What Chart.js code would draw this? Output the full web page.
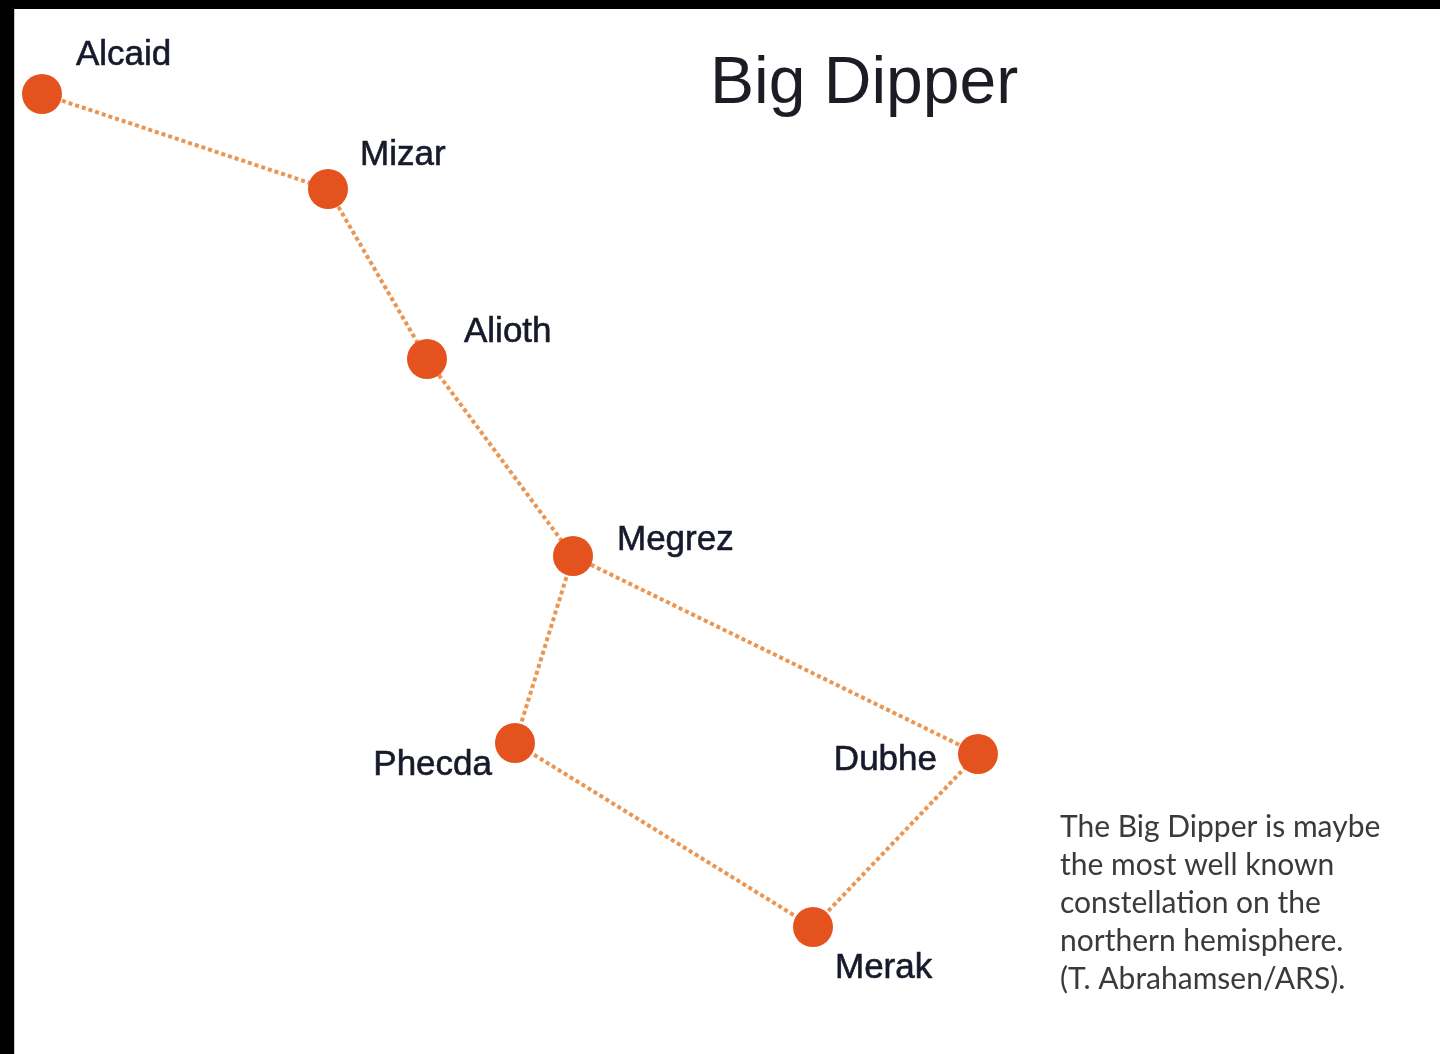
<!DOCTYPE html>
<html>
<head>
<meta charset="utf-8">
<script src="https://cdn.jsdelivr.net/npm/chart.js@4"></script>
<style>
  html, body { margin: 0; padding: 0; background: #ffffff; }
  #wrap { position: absolute; left: 0; top: 0; width: 1440px; height: 1054px; }
</style>
</head>
<body>
<div id="wrap"><canvas id="c" width="1440" height="1054"></canvas></div>
<script>
// ---- data (star positions, in picture units) ----
const starNames = ['Alcaid', 'Mizar', 'Alioth', 'Megrez', 'Phecda', 'Dubhe', 'Merak'];
const starX = [42, 328, 427, 573, 515, 978, 813];
const starY = [94, 189, 359, 556, 743, 754, 927];
// order in which the dotted line connects the stars
const pathOrder = ['Alcaid', 'Mizar', 'Alioth', 'Megrez', 'Dubhe', 'Merak', 'Phecda', 'Megrez'];
const titleText = 'Big Dipper';
const noteLines = [
  'The Big Dipper is maybe',
  'the most well known',
  'constellation on the',
  'northern hemisphere.',
  '(T. Abrahamsen/ARS).'
];

// ---- label placement (style, not data) ----
const labelPlacement = {
  Alcaid: { dx: 34, dy: -29, align: 'left' },
  Mizar:  { dx: 32, dy: -24, align: 'left' },
  Alioth: { dx: 37, dy: -17, align: 'left' },
  Megrez: { dx: 44, dy: -6,  align: 'left' },
  Phecda: { dx: -23, dy: 32, align: 'right' },
  Dubhe:  { dx: -41, dy: 16, align: 'right' },
  Merak:  { dx: 22, dy: 51,  align: 'left' }
};

const starPoints = starNames.map((n, i) => ({ x: starX[i], y: starY[i] }));
const pathPoints = pathOrder.map(n => {
  const i = starNames.indexOf(n);
  return { x: starX[i], y: starY[i] };
});

const decorPlugin = {
  id: 'decor',
  beforeDraw(chart) {
    const ctx = chart.ctx;
    ctx.save();
    ctx.fillStyle = '#ffffff';
    ctx.fillRect(0, 0, chart.width, chart.height);
    ctx.fillStyle = '#000000';
    ctx.fillRect(0, 0, chart.width, 9);
    ctx.fillRect(0, 0, 14, chart.height);
    ctx.fillStyle = '#c8c8c8';
    ctx.fillRect(14, 9, 1, chart.height - 9);
    ctx.restore();
  },
  afterDatasetsDraw(chart) {
    const ctx = chart.ctx;
    const xs = chart.scales.x, ys = chart.scales.y;
    ctx.save();
    // star labels
    ctx.fillStyle = '#161a2a';
    ctx.font = '35px "Liberation Sans", Arial, sans-serif';
    ctx.textBaseline = 'alphabetic';
    starNames.forEach((n, i) => {
      const p = labelPlacement[n];
      ctx.textAlign = p.align;
      const x = xs.getPixelForValue(starX[i]) + p.dx;
      const y = ys.getPixelForValue(starY[i]) + p.dy;
      ctx.fillText(n, x, y);
      ctx.lineWidth = 0.6;
      ctx.strokeStyle = '#161a2a';
      ctx.strokeText(n, x, y);
    });
    // title
    ctx.fillStyle = '#1c1c24';
    ctx.font = '66px "Liberation Sans", Arial, sans-serif';
    ctx.textAlign = 'left';
    ctx.fillText(titleText, 710, 103);
    // note
    ctx.fillStyle = '#3a3a3a';
    ctx.font = '30px Lato, "Open Sans", sans-serif';
    noteLines.forEach((t, k) => {
      ctx.fillText(t, 1060, 837 + k * 38);
    });
    ctx.restore();
  }
};

new Chart(document.getElementById('c'), {
  type: 'scatter',
  data: {
    datasets: [
      {
        label: 'Stars',
        data: starPoints,
        order: 0,
        showLine: false,
        pointRadius: 20,
        pointHoverRadius: 20,
        pointBackgroundColor: '#e4531e',
        pointBorderColor: '#e4531e',
        pointBorderWidth: 0
      },
      {
        label: 'Lines',
        data: pathPoints,
        order: 1,
        showLine: true,
        borderColor: '#eb9550',
        borderWidth: 4,
        borderDash: [4, 3],
        pointRadius: 0,
        pointHoverRadius: 0,
        fill: false,
        tension: 0
      }
    ]
  },
  options: {
    responsive: false,
    animation: false,
    events: [],
    layout: { padding: 0, autoPadding: false },
    plugins: { legend: { display: false }, tooltip: { enabled: false }, title: { display: false } },
    scales: {
      x: { type: 'linear', min: 0, max: 1440, display: false },
      y: { type: 'linear', min: 0, max: 1054, reverse: true, display: false }
    }
  },
  plugins: [decorPlugin]
});
</script>
</body>
</html>
